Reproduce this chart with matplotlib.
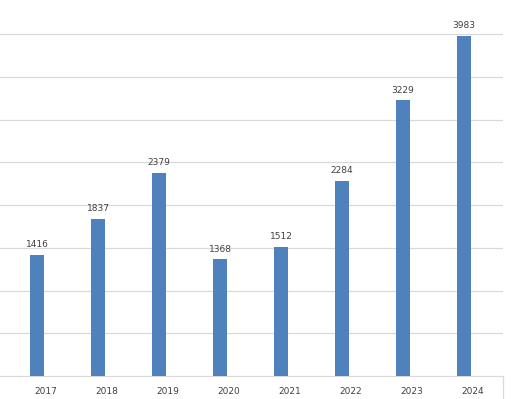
import matplotlib
matplotlib.use("Agg")
import matplotlib.pyplot as plt
import numpy as np

years = ["2017", "2018", "2019", "2020", "2021", "2022", "2023", "2024"]
values = [1416, 1837, 2379, 1368, 1512, 2284, 3229, 3983]

fig = plt.figure(figsize=(5.11, 3.99), dpi=100)
ax = fig.add_axes([0, 23/399, 503/511, 376/399])

x = np.arange(len(years))
bars = ax.bar(x - 0.148, values, width=0.23, color="#4F81BD", zorder=3)
for xi, v in zip(x, values):
    ax.annotate(str(v), (xi - 0.148, v), xytext=(0, 4), textcoords="offset points",
                ha="center", va="bottom", fontsize=6.5, color="#404040")

ax.set_ylim(0, 4400)
ax.set_xlim(-0.754, 7.49)
ax.set_yticks(np.arange(500, 4001, 500))
ax.yaxis.grid(True, color="#D9D9D9", linewidth=0.9, zorder=0)
ax.tick_params(axis="y", left=False, labelleft=False)
ax.set_xticks(x)
ax.set_xticklabels(years, fontsize=6.5, color="#404040")
ax.tick_params(axis="x", length=0, pad=8)
for s in ["left", "top", "right"]:
    ax.spines[s].set_visible(False)
ax.spines["bottom"].set_color("#D9D9D9")
ax.spines["bottom"].set_linewidth(0.9)
ax.plot([1, 1], [0, -0.07], transform=ax.transAxes, color="#D9D9D9", lw=0.9, clip_on=False)

fig.savefig("out.png", dpi=100)
